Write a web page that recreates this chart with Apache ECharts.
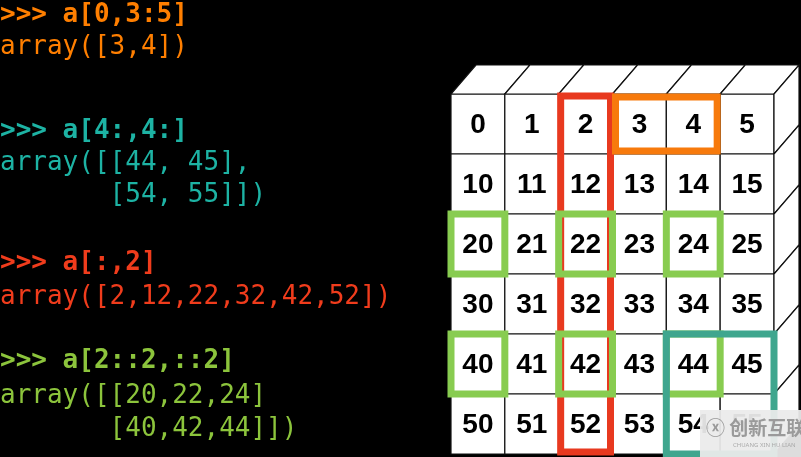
<!DOCTYPE html>
<html>
<head>
<meta charset="utf-8">
<script src="https://cdn.jsdelivr.net/npm/echarts@6/dist/echarts.min.js"></script>
<style>
  html, body { margin: 0; padding: 0; background: #000; }
  #chart { width: 801px; height: 457px; }
</style>
</head>
<body>
<div id="chart"></div>
<script>
// array values, row by row
var cellRows = [
	[0, 1, 2, 3, 4, 5],
	[10, 11, 12, 13, 14, 15],
	[20, 21, 22, 23, 24, 25],
	[30, 31, 32, 33, 34, 35],
	[40, 41, 42, 43, 44, 45],
	[50, 51, 52, 53, 54, 55]
];
// highlight boxes: [col0, row0, col1, row1]
var boxRed = [[2, 0, 3, 6]];
var boxOrange = [[3, 0, 5, 1]];
var boxGreen = [[0, 2, 1, 3], [2, 2, 3, 3], [4, 2, 5, 3], [0, 4, 1, 5], [2, 4, 3, 5], [4, 4, 5, 5]];
var boxTeal = [[4, 4, 6, 6]];
// code lines on the left: [text, color, bold, y]
var codeLines = [
	['>>> a[0,3:5]', '#ff7f00', true, 14],
	['array([3,4])', '#ff7f00', false, 46],
	['>>> a[4:,4:]', '#1db3a4', true, 130],
	['array([[44, 45],', '#1db3a4', false, 162],
	['       [54, 55]])', '#1db3a4', false, 194],
	['>>> a[:,2]', '#f03c1c', true, 262],
	['array([2,12,22,32,42,52])', '#f03c1c', false, 296],
	['>>> a[2::2,::2]', '#8cc43c', true, 360],
	['array([[20,22,24]', '#8cc43c', false, 395],
	['       [40,42,44]])', '#8cc43c', false, 428]
];

var DX = 25, DY = -29;

var cellData = [];
for (var r = 0; r < cellRows.length; ++r) {
	for (var c = 0; c < cellRows[r].length; ++c) {
		cellData.push([c, r, cellRows[r][c]]);
	}
}

function boxSeries(list, color, inset) {
	return {
		type: 'custom',
		coordinateSystem: 'cartesian2d',
		data: list,
		z: 5,
		renderItem: function (params, api) {
			var p0 = api.coord([api.value(0), api.value(1)]);
			var p1 = api.coord([api.value(2), api.value(3)]);
			return {
				type: 'rect',
				shape: { x: p0[0] + inset, y: p0[1] + inset, width: p1[0] - p0[0] - 2 * inset, height: p1[1] - p0[1] - 2 * inset },
				style: { fill: 'none', stroke: color, lineWidth: 7 }
			};
		}
	};
}

var graphics = codeLines.map(function (l) {
	return {
		type: 'text', left: 0, top: l[3] - 12,
		style: { text: l[0], fill: l[1], font: (l[2] ? 'bold ' : '') + '26px "DejaVu Sans Mono"' }
	};
});
graphics.push({
	type: 'rect', shape: { x: 700, y: 410, width: 101, height: 47 },
	style: { fill: 'rgba(235,235,235,0.94)' }, z: 100
});
graphics.push({
	type: 'text', x: 706, y: 418, z: 101,
	style: { text: 'ⓧ 创新互联', fill: '#9a9a9a', font: 'bold 19px "Noto Sans CJK SC"' }
});
graphics.push({
	type: 'text', x: 733, y: 442, z: 101,
	style: { text: 'CHUANG XIN HU LIAN', fill: '#aaa', font: '6px "Noto Sans"' }
});

var option = {
	backgroundColor: '#000',
	animation: false,
	grid: { left: 451, top: 94, width: 323, height: 360 },
	xAxis: { type: 'value', min: 0, max: 6, show: false },
	yAxis: { type: 'value', min: 0, max: 6, inverse: true, show: false },
	graphic: graphics,
	series: [
		{
			type: 'custom',
			coordinateSystem: 'cartesian2d',
			data: cellData,
			renderItem: function (params, api) {
				var c = api.value(0), r = api.value(1);
				var p0 = api.coord([c, r]);
				var p1 = api.coord([c + 1, r + 1]);
				var children = [{
					type: 'rect',
					shape: { x: p0[0], y: p0[1], width: p1[0] - p0[0], height: p1[1] - p0[1] },
					style: { fill: '#fff', stroke: '#111', lineWidth: 1.2 }
				}, {
					type: 'text',
					style: {
						text: String(api.value(2)), x: (p0[0] + p1[0]) / 2, y: (p0[1] + p1[1]) / 2 + 1,
						align: 'center', verticalAlign: 'middle', fill: '#000',
						font: 'bold 28px "Liberation Sans"'
					}
				}];
				if (r === 0) {
					children.push({
						type: 'polygon',
						shape: { points: [[p0[0], p0[1]], [p1[0], p0[1]], [p1[0] + DX, p0[1] + DY], [p0[0] + DX, p0[1] + DY]] },
						style: { fill: '#fff', stroke: '#111', lineWidth: 1.2 }
					});
				}
				if (c === 5) {
					children.push({
						type: 'polygon',
						shape: { points: [[p1[0], p0[1]], [p1[0], p1[1]], [p1[0] + DX, p1[1] + DY], [p1[0] + DX, p0[1] + DY]] },
						style: { fill: '#fff', stroke: '#111', lineWidth: 1.2 }
					});
				}
				return { type: 'group', children: children };
			}
		},
		boxSeries(boxRed, '#e8391f', 2),
		boxSeries(boxOrange, '#f77a0c', 3),
		boxSeries(boxGreen, '#88cc50', 0),
		boxSeries(boxTeal, '#3fa68e', 0)
	]
};

var chart = echarts.init(document.getElementById('chart'));
chart.setOption(option);
</script>
</body>
</html>
